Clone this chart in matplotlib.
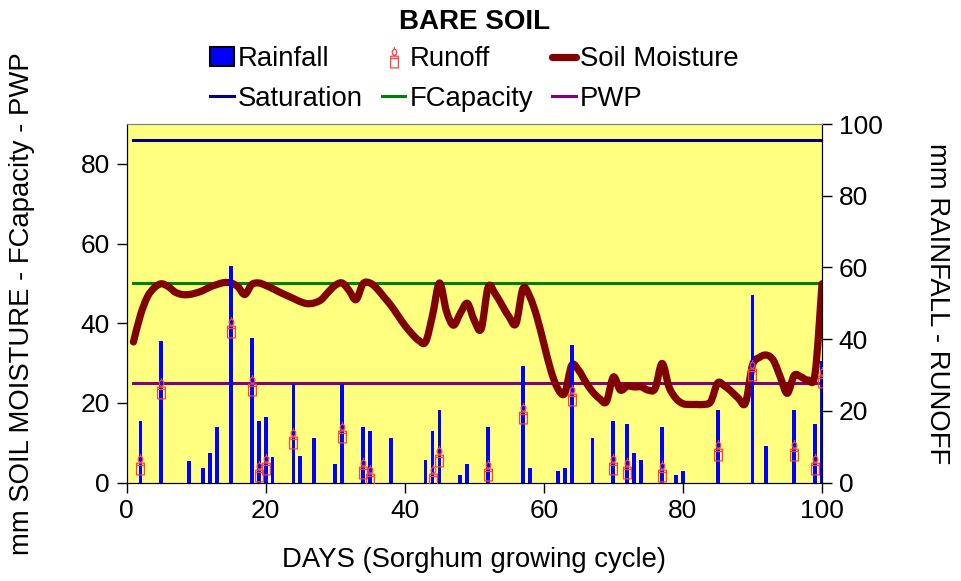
import numpy as np
import matplotlib
matplotlib.use('Agg')
import matplotlib.pyplot as plt
from matplotlib.path import Path
from matplotlib.patches import PathPatch, Patch
from matplotlib.lines import Line2D

plt.rcParams['font.family'] = ['Liberation Sans', 'DejaVu Sans']

# daily soil moisture (mm), days 1..100
days = np.arange(1, 101)
soil_moisture = [
    35.3, 42.0, 46.6, 48.9, 49.9, 49.2, 47.8, 47.2, 47.2, 47.6,
    48.2, 49.1, 49.7, 50.2, 50.1, 49.2, 47.2, 49.7, 50.1, 49.5,
    48.7, 47.8, 47.0, 46.2, 45.4, 44.9, 45.1, 45.9, 47.8, 49.5,
    50.1, 48.2, 45.9, 49.9, 50.1, 48.7, 46.6, 44.5, 42.0, 39.5,
    37.4, 35.7, 35.3, 42.0, 50.1, 43.0, 39.5, 42.5, 45.0, 40.7,
    38.6, 49.1, 47.4, 44.5, 41.6, 39.9, 48.7, 46.6, 41.6, 34.9,
    28.2, 23.6, 22.4, 29.4, 28.2, 25.3, 22.8, 21.1, 20.3, 26.5,
    23.2, 24.2, 24.0, 24.0, 23.2, 23.6, 29.9, 24.0, 21.1, 19.8,
    19.6, 19.6, 19.6, 20.3, 25.0, 24.2, 22.8, 21.1, 20.0, 29.5,
    31.4, 32.0, 30.7, 26.5, 22.4, 26.9, 26.5, 25.7, 27.4, 49.9,
]
saturation = 86
fcapacity = 50
pwp = 25

rain_days = [2, 5, 9, 11, 12, 13, 15, 18, 19, 20, 21, 24, 25, 27, 30, 31, 34, 35,
             38, 43, 44, 45, 48, 49, 52, 57, 58, 62, 63, 64, 67, 70, 72, 73, 74,
             77, 79, 80, 85, 90, 92, 96, 99, 100]
rainfall = [17.3, 39.4, 6.1, 4.1, 8.2, 15.4, 60.5, 40.4, 17.3, 18.3, 7.2, 27.4,
            7.3, 12.3, 5.2, 27.4, 15.4, 14.3, 12.3, 6.2, 14.3, 20.2, 2.2, 5.2,
            15.4, 32.5, 4.1, 3.3, 4.1, 38.4, 12.3, 17.3, 16.3, 8.1, 6.2, 15.4,
            2.2, 3.3, 20.2, 52.3, 10.3, 20.2, 16.3, 34.0]

runoff_days = [2, 5, 15, 18, 19, 20, 24, 31, 34, 35, 44, 45, 52, 57, 64, 70, 72,
               77, 85, 90, 96, 99, 100]
runoff = [5.2, 26.4, 43.4, 27.2, 3.3, 5.2, 12.4, 14.1, 4.1, 2.2, 2.2, 7.3, 3.4,
          19.3, 24.3, 5.2, 4.1, 3.2, 9.2, 31.4, 9.2, 5.2, 29.3]

FS = 19.8


def smooth_path(x, y):
    # excel-like smoothed line: catmull-rom segments as cubic beziers
    pts = np.column_stack([x, y]).astype(float)
    ext = np.vstack([pts[0], pts, pts[-1]])
    verts = [pts[0]]
    codes = [Path.MOVETO]
    for i in range(len(pts) - 1):
        p0, p1, p2, p3 = ext[i], ext[i + 1], ext[i + 2], ext[i + 3]
        verts += [p1 + (p2 - p0) / 6, p2 - (p3 - p1) / 6, p2]
        codes += [Path.CURVE4] * 3
    return Path(verts, codes)


def candle_marker():
    body = Path([(-0.6, -1.6), (0.6, -1.6), (0.6, 0.2), (-0.6, 0.2), (-0.6, -1.6),
                 (-0.6, -0.15), (0.6, -0.15)],
                [Path.MOVETO, Path.LINETO, Path.LINETO, Path.LINETO, Path.CLOSEPOLY,
                 Path.MOVETO, Path.LINETO])
    circ = Path.unit_circle()
    flame = Path(circ.vertices * [0.35, 0.45] + [0, 0.8], circ.codes)
    tip = Path([(0, 1.25), (0, 1.6)], [Path.MOVETO, Path.LINETO])
    return Path.make_compound_path(body, flame, tip)


fig = plt.figure(figsize=(9.62, 5.81), dpi=100)
ax = fig.add_axes([0.1315, 0.1695, 0.723, 0.617])
ax.set_facecolor('#FFFF80')

ax.plot(days, [saturation] * len(days), color='#000080', lw=2.2, zorder=2)
ax.plot(days, [fcapacity] * len(days), color='#008000', lw=2.2, zorder=2)
ax.plot(days, [pwp] * len(days), color='#800080', lw=2.2, zorder=2)
ax.add_patch(PathPatch(smooth_path(days, soil_moisture), fill=False,
                       edgecolor='#800000', lw=5.2, capstyle='round',
                       joinstyle='round', zorder=3))

ax.set_xlim(0, 100)
ax.set_ylim(0, 90)
ax.set_xticks(range(0, 101, 20))
ax.set_yticks(range(0, 81, 20))

ax2 = ax.twinx()
ax2.bar(rain_days, rainfall, width=0.55, color='#0000FF', zorder=2)
candle = candle_marker()
ax2.plot(runoff_days, runoff, ls='none', marker=candle, ms=15,
         mfc='none', mec='#FF4040', mew=0.9, zorder=3)
ax2.set_ylim(0, 100)
ax2.set_yticks(range(0, 101, 20))

for a in (ax, ax2):
    a.tick_params(direction='out', length=7, width=1, labelsize=19, pad=5)
    a.spines['top'].set_color('#808080')
    for s in ('left', 'right', 'bottom'):
        a.spines[s].set_color('black')

ax.set_xlabel('DAYS (Sorghum growing cycle)', fontsize=FS, labelpad=17)
ax.set_ylabel('mm SOIL MOISTURE - FCapacity - PWP', fontsize=FS)
ax.yaxis.set_label_coords(-0.131, 0.5)
ax2.set_ylabel('mm RAINFALL - RUNOFF', fontsize=FS, rotation=270)
ax2.yaxis.set_label_coords(1.184, 0.5)

fig.text(0.493, 0.962, 'BARE SOIL', fontsize=20, fontweight='bold',
         ha='center', va='center')

handles = [
    Patch(facecolor='#0000FF', edgecolor='black', lw=1.5),
    Line2D([], [], color='#000080', lw=2.2),
    Line2D([], [], ls='none', marker=candle, ms=15, mfc='none',
           mec='#FF4040', mew=0.9),
    Line2D([], [], color='#008000', lw=2.2),
    Line2D([], [], color='#800000', lw=5.2, solid_capstyle='round'),
    Line2D([], [], color='#800080', lw=2.2),
]
labels = ['Rainfall', 'Saturation', 'Runoff', 'FCapacity', 'Soil Moisture', 'PWP']
fig.legend(handles, labels, ncol=3, loc='upper center',
           bbox_to_anchor=(0.493, 0.944), frameon=False, fontsize=FS,
           handlelength=0.85, handletextpad=0.15, columnspacing=0.7,
           labelspacing=0.5, borderpad=0)

fig.savefig('out.png', dpi=100)
